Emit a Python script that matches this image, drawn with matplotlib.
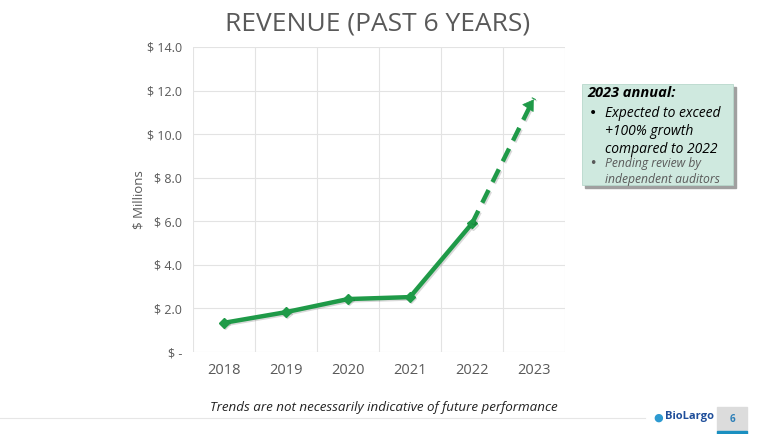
import numpy as np
import matplotlib; matplotlib.use('Agg')
import matplotlib.pyplot as plt
import matplotlib.patheffects as pe
from matplotlib.patches import Rectangle

years   = ['2018', '2019', '2020', '2021', '2022', '2023']
revenue = [1.34, 1.83, 2.43, 2.52, 5.9, 11.65]
yticks  = [0, 2, 4, 6, 8, 10, 12, 14]
ytick_labels = ['$ -', '$ 2.0', '$ 4.0', '$ 6.0', '$ 8.0', '$ 10.0', '$ 12.0', '$ 14.0']

GREEN = '#1f9a48'
GREY  = '#595959'
plt.rcParams['font.family'] = ['Open Sans', 'DejaVu Sans']

fig = plt.figure(figsize=(7.8, 4.34), dpi=100)
ax = fig.add_axes([193/780, 1 - 352/434, 372/780, 305/434])

x = np.arange(len(years))
shadow = [pe.SimpleLineShadow(offset=(1, -1), alpha=0.15), pe.Normal()]
ax.plot(x[:5], revenue[:5], color=GREEN, lw=3.2, marker='D', ms=5,
        solid_capstyle='round', path_effects=shadow, zorder=3)
ax.plot(x[4:], revenue[4:], color=GREEN, lw=3.2, ls=(0, (3.2, 2.0)),
        path_effects=shadow, zorder=3)
ax.annotate('', xy=(x[5] + 0.02, revenue[5] + 0.05),
            xytext=(x[5] - 0.12, revenue[5] - 0.55),
            arrowprops=dict(arrowstyle='-|>,head_length=0.7,head_width=0.45',
                            color=GREEN, lw=0.5), zorder=4)

ax.set_xlim(-0.5, 5.5)
ax.set_ylim(0, 14)
ax.set_xticks(x)
ax.set_xticklabels(years, fontsize=10.5, color=GREY)
ax.set_yticks(yticks)
ax.set_yticklabels(ytick_labels, fontsize=9, color=GREY)
ax.set_xticks(np.arange(-0.5, 6, 1), minor=True)
ax.grid(True, which='major', axis='y', color='#e3e3e3', lw=0.8)
ax.grid(True, which='minor', axis='x', color='#e3e3e3', lw=0.8)
ax.tick_params(which='both', length=0, pad=8)
for s in ax.spines.values():
    s.set_visible(False)
ax.set_ylabel('$ Millions', fontsize=9.5, color=GREY, labelpad=1)

fig.text(378/780, 1 - 24/434, 'REVENUE (PAST 6 YEARS)', ha='center', va='center',
         fontsize=19, color=GREY)
fig.text(384/780, 1 - 407/434, 'Trends are not necessarily indicative of future performance',
         ha='center', va='center', fontsize=9.6, style='italic', color='#222222')

# note box
box_x, box_y, box_w, box_h = 582/780, 1 - 185/434, 151/780, 101/434
fig.patches.append(Rectangle((box_x + 0.004, box_y - 0.008), box_w, box_h,
                             transform=fig.transFigure, color='#a0a0a0', zorder=1))
fig.patches.append(Rectangle((box_x, box_y), box_w, box_h, transform=fig.transFigure,
                             facecolor='#cfe9df', edgecolor='#b8d8cc', lw=0.6, zorder=2))
fig.text(587/780, 1 - 93/434, '2023 annual:', fontsize=10.5, fontweight='bold',
         style='italic', color='black', va='center')
fig.text(589/780, 1 - 113/434, '•', fontsize=10, color='black', va='center',
         family='DejaVu Sans')
fig.text(605/780, 1 - 131.5/434, 'Expected to exceed\n+100% growth\ncompared to 2022',
         fontsize=10, style='italic', color='black', va='center', linespacing=1.25)
fig.text(589/780, 1 - 163/434, '•', fontsize=9, color=GREY, va='center',
         family='DejaVu Sans')
fig.text(605/780, 1 - 171.5/434, 'Pending review by\nindependent auditors',
         fontsize=8.7, style='italic', color=GREY, va='center', linespacing=1.3)

# footer
fig.add_artist(plt.Line2D([0, 645/780], [1 - 418/434] * 2, color='#e6e6e6', lw=0.8))
fig.text(658/780, 1 - 418/434, '\u25cf', fontsize=8, color='#2d9ad1', va='center', ha='center')
fig.text(665/780, 1 - 416/434, 'BioLargo', fontsize=8, fontweight='bold',
         color='#1f4e9a', va='center')
fig.patches.append(Rectangle((717/780, 1 - 431/434), 30/780, 24/434,
                             transform=fig.transFigure, color='#dcdcdc', zorder=1))
fig.patches.append(Rectangle((717/780, 0), 30/780, 3/434,
                             transform=fig.transFigure, color='#1a8fc0', zorder=2))
fig.text(732/780, 1 - 420/434, '6', fontsize=7, color='#2d7fb8', ha='center', va='center',
         fontweight='bold')

fig.savefig('out.png', dpi=100)
